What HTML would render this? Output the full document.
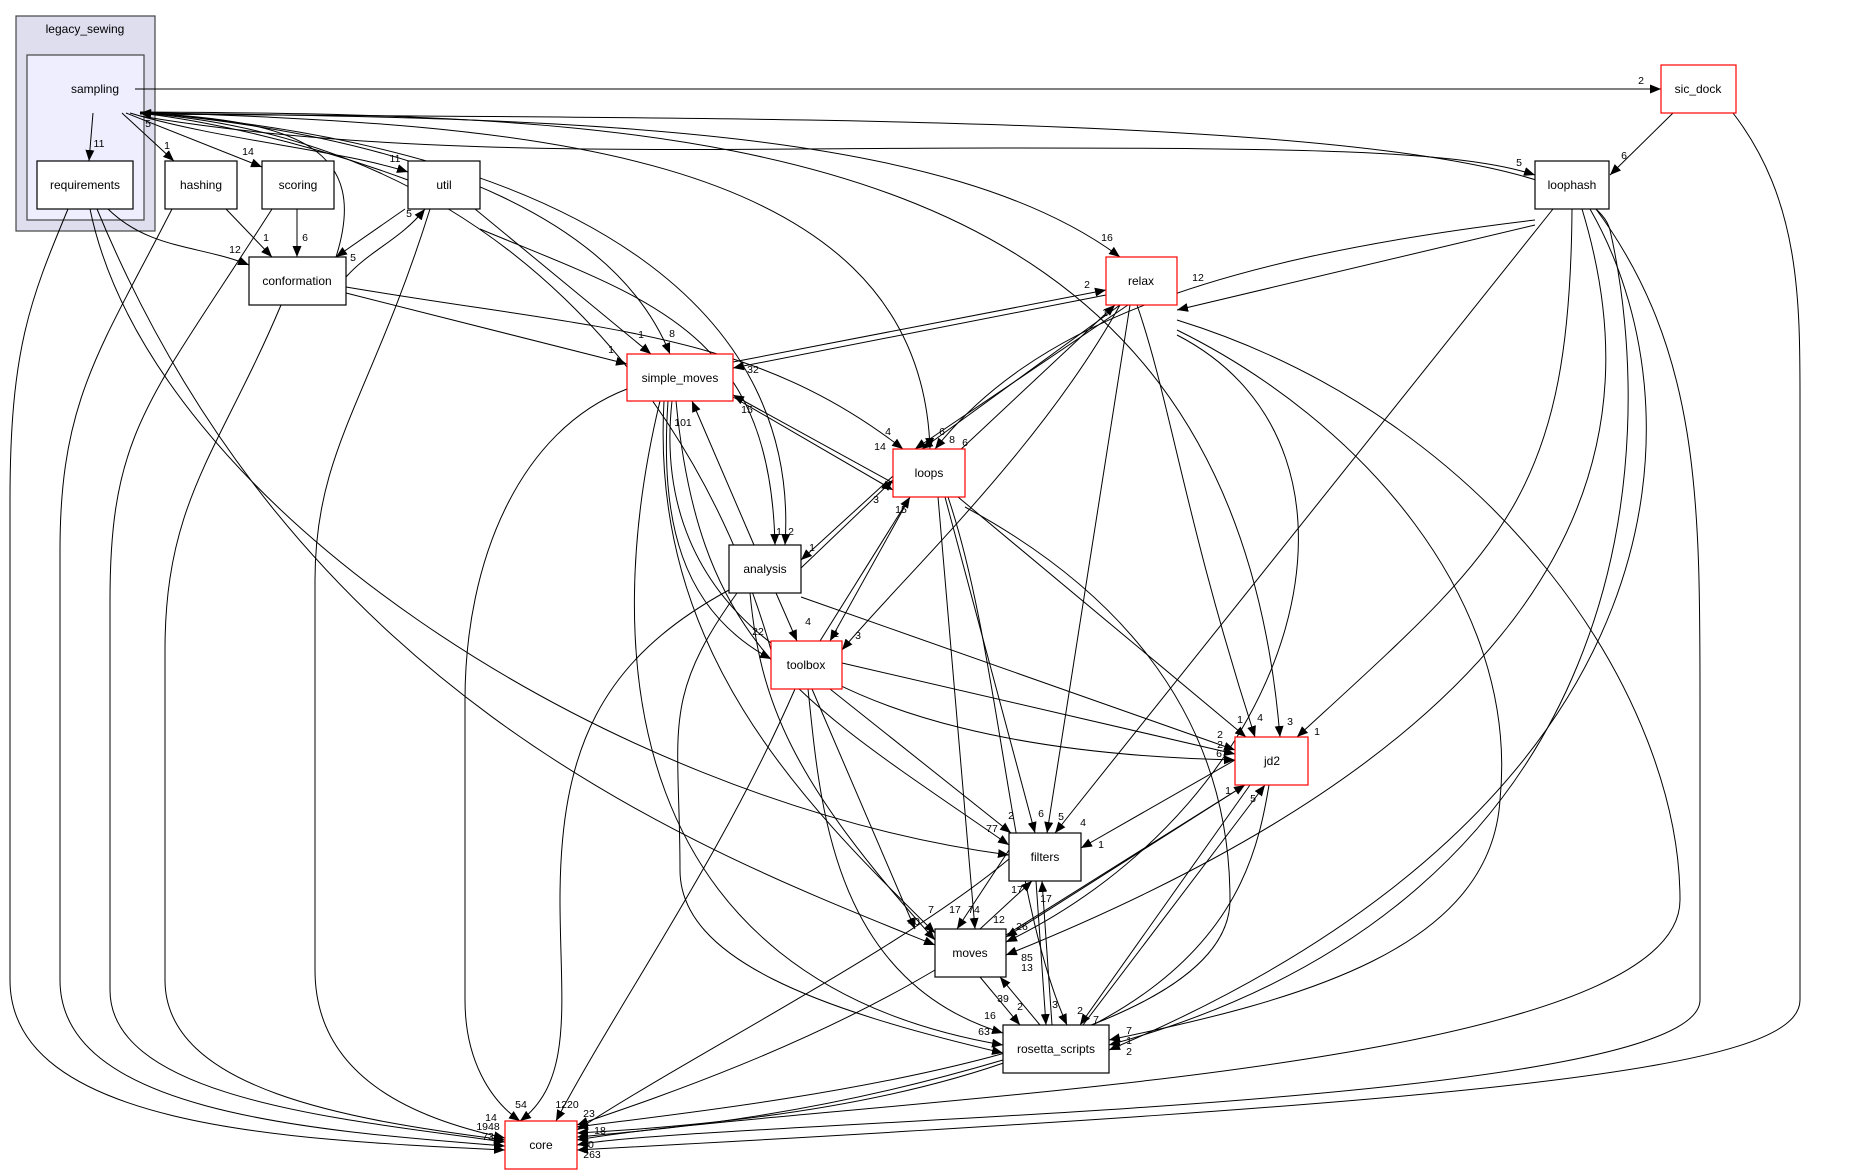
<!DOCTYPE html>
<html><head><meta charset="utf-8"><style>
html,body{margin:0;padding:0;background:#fff;}
svg{display:block;font-family:"Liberation Sans",sans-serif;}
.n{fill:#fff;stroke:#000;stroke-width:1.2}
.r{fill:#fff;stroke:#f00;stroke-width:1.2}
.e{fill:none;stroke:#000;stroke-width:1}
.t{font-size:12px;text-anchor:middle}
.l{font-size:10.5px;text-anchor:middle}
</style></head><body>
<svg width="1852" height="1175" viewBox="0 0 1852 1175" xmlns="http://www.w3.org/2000/svg">
<defs><marker id="a" markerWidth="11" markerHeight="9" refX="11" refY="4.5" orient="auto" markerUnits="userSpaceOnUse"><path d="M0,0 L11,4.5 L0,9 z" fill="#000"/></marker></defs>
<rect x="16" y="16" width="139" height="215" fill="#dedeef" stroke="#444" stroke-width="1.2"/>
<text class="t" x="85" y="33">legacy_sewing</text>
<rect x="27" y="55" width="117" height="165" fill="#eeeeff" stroke="#444" stroke-width="1.2"/>
<text class="t" x="95" y="93">sampling</text>

<g class="e" marker-end="url(#a)">
<path d="M135,89 L1661,89"/>
<path d="M93,113 L89,161"/>
<path d="M122,113 L174,161"/>
<path d="M126,113 L262,167"/>
<path d="M130,113 C220,140 340,150 408,172"/>
<path d="M140,116 C400,160 700,148 1000,148 C1300,148 1460,150 1535,175"/>
<path d="M140,113 C600,118 950,130 1120,257"/>
<path d="M140,112 C450,140 620,230 670,354"/>
<path d="M140,112 C600,150 800,320 785,545"/>
<path d="M140,112 C500,125 920,140 930,449"/>
<path d="M140,112 C700,115 1230,130 1280,737"/>
<path d="M140,114 C800,120 1580,110 1610,230 C1660,450 1640,900 1109,1045"/>
<path d="M336,257 C370,150 300,120 140,113"/>
<path d="M408,180 C300,140 200,120 140,113"/>
<path d="M771,650 C700,400 500,140 140,113"/>
<path d="M108,209 C150,250 200,245 249,265"/>
<path d="M68,209 C30,300 10,350 10,500 L10,980 C10,1130 300,1140 505,1150"/>
<path d="M90,209 C150,500 600,800 1009,855"/>
<path d="M97,209 C300,700 700,850 935,945"/>
<path d="M226,209 L272,257"/>
<path d="M172,209 C100,350 60,400 60,550 L60,980 C60,1110 300,1130 505,1146"/>
<path d="M297,209 L297,257"/>
<path d="M272,209 C150,400 110,430 110,600 L110,990 C110,1100 350,1120 505,1142"/>
<path d="M405,209 L336,257"/>
<path d="M346,277 C370,250 400,240 425,209"/>
<path d="M475,209 L651,354"/>
<path d="M480,229 C650,300 770,330 775,545"/>
<path d="M430,209 C370,400 315,450 315,580 L315,970 C315,1080 420,1120 505,1138"/>
<path d="M346,293 L627,364"/>
<path d="M346,287 C600,330 750,330 903,449"/>
<path d="M281,305 C220,450 165,500 165,650 L165,980 C165,1090 350,1120 505,1140"/>
<path d="M733,362 L1106,290"/>
<path d="M1106,295 L733,368"/>
<path d="M733,397 L893,490"/>
<path d="M893,483 L733,395"/>
<path d="M627,389 C520,430 465,560 465,700 L465,1000 C465,1060 490,1100 520,1121"/>
<path d="M668,401 C660,520 680,610 771,659"/>
<path d="M672,401 C650,600 800,750 1235,760"/>
<path d="M676,401 C700,650 800,700 1009,845"/>
<path d="M664,401 C650,650 800,800 935,933"/>
<path d="M660,401 C600,650 620,980 1003,1045"/>
<path d="M754,545 L692,401"/>
<path d="M801,568 L893,480"/>
<path d="M893,476 L801,560"/>
<path d="M776,593 L797,641"/>
<path d="M729,590 C600,660 560,750 560,900 C560,1000 575,1080 520,1121"/>
<path d="M801,597 L1235,750"/>
<path d="M737,593 C660,700 680,730 680,870 C680,960 820,1010 1003,1053"/>
<path d="M750,593 C760,700 790,780 935,940"/>
<path d="M820,641 L910,497"/>
<path d="M910,497 L830,641"/>
<path d="M1120,305 C1040,450 900,580 842,650"/>
<path d="M795,689 C720,860 620,1000 556,1121"/>
<path d="M842,663 L1235,754"/>
<path d="M830,689 L1011,833"/>
<path d="M812,689 L915,929"/>
<path d="M808,689 C820,800 830,980 1003,1033"/>
<path d="M910,497 L1115,305"/>
<path d="M1128,305 L915,449"/>
<path d="M1120,305 L922,449"/>
<path d="M958,497 L1246,737"/>
<path d="M945,497 L1035,833"/>
<path d="M938,497 L975,929"/>
<path d="M948,497 C1000,650 1010,900 1067,1025"/>
<path d="M965,507 C1100,580 1230,700 1230,900 C1230,1060 700,1110 577,1127"/>
<path d="M1137,305 C1170,400 1185,520 1255,737"/>
<path d="M1130,305 L1047,833"/>
<path d="M1177,335 C1400,450 1300,800 1006,942"/>
<path d="M1177,330 C1360,420 1520,600 1500,800 C1490,950 1300,1000 1109,1040"/>
<path d="M1177,320 C1500,420 1680,700 1680,900 C1680,1080 800,1100 577,1140"/>
<path d="M1535,225 L1177,310"/>
<path d="M1535,220 C1200,260 1030,330 935,449"/>
<path d="M1553,209 L1055,833"/>
<path d="M1572,209 C1570,500 1500,550 1297,737"/>
<path d="M1582,209 C1640,400 1640,700 1006,955"/>
<path d="M1590,209 C1700,400 1700,800 1109,1050"/>
<path d="M1596,209 C1700,350 1700,500 1700,700 L1700,1000 C1700,1110 700,1120 577,1145"/>
<path d="M1673,113 L1610,175"/>
<path d="M1733,113 C1800,200 1800,300 1800,400 L1800,1000 C1800,1070 1500,1100 577,1150"/>
<path d="M1235,760 L1081,848"/>
<path d="M1245,785 L1006,937"/>
<path d="M1006,935 L1245,785"/>
<path d="M1250,785 L1080,1025"/>
<path d="M1083,1025 L1265,785"/>
<path d="M1269,785 C1250,900 1200,1100 577,1133"/>
<path d="M1009,850 L957,929"/>
<path d="M980,929 L1032,881"/>
<path d="M1036,881 L1046,1025"/>
<path d="M1052,1025 L1042,881"/>
<path d="M1009,859 C900,950 700,1050 577,1130"/>
<path d="M980,977 L1020,1025"/>
<path d="M1040,1025 L1000,977"/>
<path d="M935,970 C800,1050 650,1100 577,1125"/>
<path d="M1003,1060 C800,1120 650,1130 577,1137"/>
</g>

<rect class="n" x="37" y="161" width="96" height="48"/><text class="t" x="85" y="189">requirements</text>
<rect class="n" x="165" y="161" width="72" height="48"/><text class="t" x="201" y="189">hashing</text>
<rect class="n" x="262" y="161" width="72" height="48"/><text class="t" x="298" y="189">scoring</text>
<rect class="n" x="408" y="161" width="72" height="48"/><text class="t" x="444" y="189">util</text>
<rect class="n" x="249" y="257" width="97" height="48"/><text class="t" x="297" y="285">conformation</text>
<rect class="r" x="627" y="354" width="106" height="47"/><text class="t" x="680" y="382">simple_moves</text>
<rect class="n" x="729" y="545" width="72" height="48"/><text class="t" x="765" y="573">analysis</text>
<rect class="r" x="893" y="449" width="72" height="48"/><text class="t" x="929" y="477">loops</text>
<rect class="r" x="1661" y="65" width="75" height="48"/><text class="t" x="1698" y="93">sic_dock</text>
<rect class="n" x="1535" y="161" width="74" height="48"/><text class="t" x="1572" y="189">loophash</text>
<rect class="r" x="1106" y="257" width="71" height="48"/><text class="t" x="1141" y="285">relax</text>
<rect class="r" x="771" y="641" width="71" height="48"/><text class="t" x="806" y="669">toolbox</text>
<rect class="r" x="505" y="1121" width="72" height="48"/><text class="t" x="541" y="1149">core</text>
<rect class="r" x="1235" y="737" width="73" height="48"/><text class="t" x="1272" y="765">jd2</text>
<rect class="n" x="1009" y="833" width="72" height="48"/><text class="t" x="1045" y="861">filters</text>
<rect class="n" x="935" y="929" width="71" height="48"/><text class="t" x="970" y="957">moves</text>
<rect class="n" x="1003" y="1025" width="106" height="48"/><text class="t" x="1056" y="1053">rosetta_scripts</text>

<g class="l">
<text x="1641" y="84">2</text><text x="99" y="147">11</text><text x="167" y="149">1</text><text x="248" y="155">14</text>
<text x="395" y="162">11</text><text x="148" y="127">5</text><text x="1519" y="166">5</text><text x="1624" y="159">6</text>
<text x="1107" y="241">16</text><text x="1198" y="281">12</text><text x="1087" y="288">2</text><text x="753" y="373">32</text>
<text x="1105" y="316">1</text><text x="942" y="435">6</text><text x="952" y="443">8</text><text x="965" y="446">6</text>
<text x="235" y="253">12</text><text x="266" y="241">1</text><text x="305" y="241">6</text><text x="409" y="217">5</text><text x="353" y="261">5</text>
<text x="641" y="338">1</text><text x="672" y="337">8</text><text x="611" y="353">1</text>
<text x="888" y="435">4</text><text x="880" y="450">14</text><text x="747" y="413">15</text><text x="683" y="426">101</text>
<text x="779" y="535">1</text><text x="791" y="535">2</text><text x="812" y="551">1</text><text x="876" y="503">3</text><text x="901" y="513">15</text>
<text x="808" y="625">4</text><text x="836" y="637">1</text><text x="858" y="639">3</text><text x="758" y="635">22</text>
<text x="1220" y="738">2</text><text x="1220" y="748">2</text><text x="1219" y="757">6</text>
<text x="1240" y="723">1</text><text x="1260" y="721">4</text><text x="1290" y="725">3</text><text x="1317" y="735">1</text>
<text x="1011" y="819">2</text><text x="1041" y="817">6</text><text x="1061" y="820">5</text><text x="1083" y="826">4</text><text x="1101" y="848">1</text>
<text x="992" y="832">77</text><text x="1228" y="794">1</text><text x="1253" y="802">5</text>
<text x="1017" y="893">17</text><text x="1046" y="902">17</text>
<text x="931" y="913">7</text><text x="955" y="913">17</text><text x="974" y="913">74</text><text x="999" y="923">12</text><text x="1022" y="930">26</text>
<text x="914" y="925">40</text><text x="1027" y="961">85</text><text x="1027" y="971">13</text>
<text x="1003" y="1002">39</text><text x="1020" y="1010">2</text><text x="1055" y="1008">3</text><text x="1080" y="1014">2</text><text x="1096" y="1023">7</text>
<text x="990" y="1019">16</text><text x="984" y="1035">63</text><text x="1129" y="1034">7</text><text x="1129" y="1044">1</text><text x="1129" y="1055">2</text>
<text x="521" y="1108">54</text><text x="567" y="1108">1220</text><text x="589" y="1117">23</text><text x="600" y="1134">18</text>
<text x="491" y="1121">14</text><text x="488" y="1130">1948</text><text x="488" y="1140">73</text>
<text x="588" y="1148">20</text><text x="592" y="1158">263</text>
</g>
</svg>
</body></html>
